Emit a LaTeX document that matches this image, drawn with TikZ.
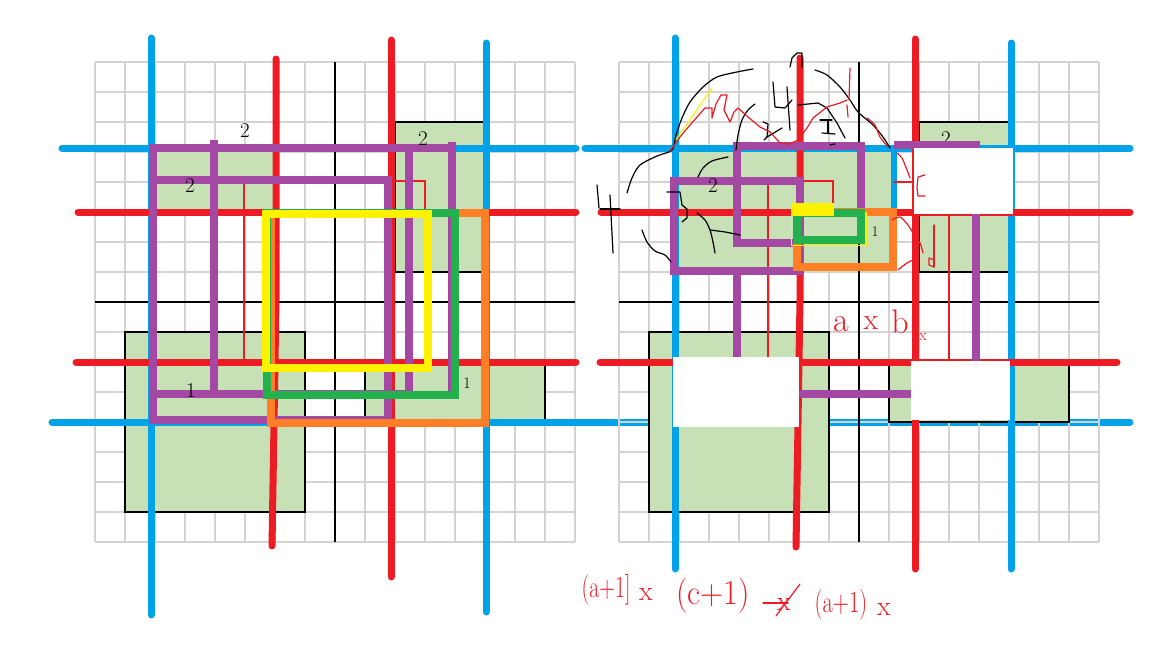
\documentclass[tikz,border=0pt]{standalone}
\usepackage{fontspec}
\usepackage{graphicx}
\definecolor{cblue}{HTML}{00A2E8}
\definecolor{cred}{HTML}{ED1C24}
\definecolor{cpurple}{HTML}{A349A4}
\definecolor{cgreen}{HTML}{22B14C}
\definecolor{corange}{HTML}{FF7F27}
\definecolor{cyellow}{HTML}{FFF200}
\definecolor{cfill}{HTML}{C8E0B5}
\definecolor{cgrid}{HTML}{D3D3D3}
\tikzset{
  gridline/.style={cgrid, line width=1.2pt},
  axisline/.style={black, line width=2.5pt},
  bluel/.style={cblue, line width=7pt, line cap=round},
  redl/.style={cred, line width=7pt, line cap=round, line join=round},
  thinred/.style={cred, line width=2.5pt},
  purp/.style={cpurple, line width=8pt, line cap=rect},
  purpbox/.style={cpurple, line width=8pt},
  greenbox/.style={fill=cfill, draw=black, line width=2.5pt},
  greenpatch/.style={fill=cfill},
  orbox/.style={corange, line width=8pt},
  grbox/.style={cgreen, line width=8pt},
  yebox/.style={cyellow, line width=8pt},
  eraser/.style={fill=white},
  scrib/.style={black, line width=1.2pt, line cap=round, line join=round},
  rscrib/.style={cred, line width=1.2pt, line cap=round, line join=round},
  numlabel/.style={font=\fontsize{21}{21}\selectfont, inner sep=0pt},
  hand/.style={cred, font=\fontsize{28}{28}\selectfont, inner sep=0pt},
}
\begin{document}
\begin{tikzpicture}[x=1pt, y=-1pt]
\useasboundingbox (0,0) rectangle (1152,648);
\fill[white] (0,0) rectangle (1152,648);

% ================= LEFT GRID =================
\foreach \i in {0,...,16} {
  \draw[gridline] ({95+30*\i},62) -- ({95+30*\i},542);
  \draw[gridline] (95,{62+30*\i}) -- (575,{62+30*\i});
}
\fill[greenpatch] (155,152) rectangle (275,212);
\draw[greenbox] (395,122) rectangle (485,272);
\draw[greenbox] (125,332) rectangle (305,512);
\draw[greenbox] (365,362) rectangle (545,422);

\draw[axisline] (335,62) -- (335,542);
\draw[axisline] (95,302) -- (575,302);

\draw[bluel] (151,38) -- (151,615);
\draw[bluel] (486,43) -- (486,612);
\draw[bluel] (62,148) -- (576,148);
\draw[bluel] (52,422) -- (1130,422);

\draw[redl] (276,59) -- (276,300) -- (272,546);
\draw[redl] (391,40) -- (391,577);
\draw[redl] (78,212) -- (576,212);
\draw[redl] (76,362) -- (576,362);

\draw[thinred] (244,182) -- (244,362);
\draw[thinred] (392,181) -- (425,181) -- (425,363);

\draw[purp] (153,148) -- (452,148);
\draw[purp] (153,180) -- (388,180);
\draw[purp] (153,394) -- (409,394);
\draw[purp] (153,420) -- (388,420);
\draw[purp] (153,148) -- (153,420);
\draw[purp] (214,144) -- (214,394);
\draw[purp] (388,180) -- (388,420);
\draw[purp] (409,148) -- (409,394);
\draw[purp] (452,146) -- (452,394);

\draw[orbox] (271,213) rectangle (485,423);
\draw[grbox] (267,213) rectangle (455,395);
\draw[yebox] (266,214) rectangle (428,368);

\node[numlabel] (l2a) at (245,131) {2};
\node[numlabel] (l2b) at (423,139) {2};
\node[numlabel] (l2c) at (190,186) {2};
\node[numlabel] (l1a) at (191,391) {1};
\node[numlabel, font=\fontsize{16}{16}\selectfont] (l1b) at (467,383) {1};

% ================= RIGHT GRID =================
\foreach \i in {0,...,16} {
  \draw[gridline] ({619+30*\i},62) -- ({619+30*\i},542);
  \draw[gridline] (619,{62+30*\i}) -- (1099,{62+30*\i});
}
\fill[greenpatch] (676,152) rectangle (891,272);
\draw[greenbox] (919,122) rectangle (1009,272);
\draw[greenbox] (649,332) rectangle (829,512);
\draw[greenbox] (889,362) rectangle (1069,422);

\draw[axisline] (859,62) -- (859,542);
\draw[axisline] (619,302) -- (1099,302);

\draw[bluel] (675,38) -- (675,569);
\draw[bluel] (1011,43) -- (1011,569);
\draw[bluel] (585,148) -- (1130,148);
\draw[cblue, line width=6pt] (894,146) -- (894,210);

\draw[redl] (800,58) -- (800,300) -- (796,547);
\draw[redl] (915,39) -- (915,569);
\draw[redl] (601,212) -- (1130,212);
\draw[redl] (600,362) -- (1117,362);

\draw[thinred] (768,185) -- (768,360);
\draw[thinred] (800,181) -- (833,181) -- (833,211);
\draw[thinred] (894,182) -- (912,182);
\draw[thinred] (917,181) -- (949,181) -- (949,362);

\node[numlabel] (r2b) at (946,139) {2};

\draw[purp] (737,146) -- (861,146);
\draw[purp] (898,145) -- (976,145);
\draw[purp] (737,146) -- (737,243);
\draw[purp] (737,272) -- (737,358);
\draw[purp] (737,243) -- (800,243);
\draw[purp] (861,146) -- (861,208);
\draw[purpbox] (674,181) rectangle (800,271);
\draw[purp] (976,212) -- (976,394);
\draw[purp] (677,394) -- (976,394);

\fill[eraser] (914,148) rectangle (1013,214);
\fill[eraser] (673,357) rectangle (799,427);
\fill[eraser] (911,361) rectangle (1010,420);

\draw[orbox] (797,212) rectangle (893,267);
\draw[grbox] (797,212.5) rectangle (861,240);
\draw[cyellow, line width=1.5pt] (791.5,216) -- (791.5,245.5) -- (866,245.5) -- (866,212);
\fill[cyellow] (791,203) rectangle (834,216);

\node[numlabel] (r2c) at (713,186) {2};
\node[numlabel, font=\fontsize{15}{15}\selectfont] (r1) at (875,232) {1};

% black handwriting
\draw[scrib] plot[smooth] coordinates {(627,193) (632,178) (640,165) (657,156) (672,150) (676,135) (682,118) (690,102) (703,87) (717,77) (737,72) (753,69)};
\draw[scrib] plot[smooth] coordinates {(642,230) (647,242) (655,251) (665,255) (671,262)};
\draw[scrib] (597,185) -- (599,208);
\draw[scrib] (600,209) -- (620,209);
\draw[scrib] (610,195) -- (613,253);
\draw[scrib] (667,192) -- (680,192) -- (682,205) -- (687,209) -- (687,218) -- (682,222);
\draw[scrib] plot[smooth] coordinates {(698,177) (703,168) (712,161) (728,157)};
\draw[scrib] plot[smooth] coordinates {(697,213) (705,220) (710,230) (713,242) (715,253)};
\draw[scrib] plot[smooth] coordinates {(710,230) (725,232) (740,235)};
\draw[scrib] plot[smooth] coordinates {(736,150) (738,135) (742,120) (748,110) (755,104)};
\draw[scrib] (773,82) -- (775,107) -- (785,108) -- (792,100);
\draw[scrib] (787,87) -- (790,130);
\draw[scrib] (790,67) -- (792,58) -- (797,53) -- (802,53) -- (802,67);
\draw[scrib] (798,105) -- (818,103) -- (827,108) -- (837,123) -- (845,138);
\draw[scrib] (820,120) -- (832,120);
\draw[scrib] (828,120) -- (828,133);
\draw[scrib] (822,133) -- (835,134);
\draw[scrib] (830,145) -- (835,144);
\draw[scrib] plot[smooth] coordinates {(815,70) (827,75) (840,87) (850,100) (858,112) (873,125) (883,137) (890,148)};
\draw[scrib] (763,122) -- (768,124) -- (767,137) -- (764,140);
\draw[scrib] (767,137) -- (782,128);

% red / yellow handwriting
\draw[cyellow, line width=1.1pt] (676,140) -- (712,88);
\draw[rscrib] (670,151) -- (680,137) -- (690,125) -- (705,108) -- (712,108) -- (712,118) -- (716,104) -- (721,95) -- (727,95) -- (724,110) -- (730,122) -- (734,112) -- (738,108) -- (748,117) -- (760,127) -- (770,132) -- (780,143) -- (790,144) -- (798,140) -- (807,128) -- (813,118) -- (827,107) -- (840,103) -- (847,100);
\draw[rscrib] (850,68) -- (849,100);
\draw[rscrib] (847,105) -- (848,117);
\draw[rscrib] plot[smooth] coordinates {(867,118) (875,125) (880,137) (888,147)};
\draw[rscrib] plot[smooth] coordinates {(897,153) (902,158) (907,170) (910,178)};
\draw[rscrib] (925,175) -- (918,177) -- (917,187) -- (918,196) -- (925,196);
\draw[rscrib] plot[smooth] coordinates {(892,220) (900,217) (908,225) (913,233) (920,243) (923,253)};
\draw[rscrib] plot[smooth] coordinates {(898,270) (907,263) (917,258)};
\draw[rscrib] (934,225) -- (934,267);
\draw[rscrib] (934,260) -- (929,258) -- (929,265) -- (934,267);

% labels
\node[hand, font=\fontsize{34}{34}\selectfont] (ab1) at (841,324) {a};
\node[hand, font=\fontsize{30}{30}\selectfont] (ab2) at (871,323) {x};
\node[hand, font=\fontsize{34}{34}\selectfont] (ab3) at (900,322) {b};
\node[hand, font=\fontsize{16}{16}\selectfont] (ab4) at (923,337) {x};

\node[hand] (f1) at (606,590) {\scalebox{0.78}[1.1]{(a+1]}};
\node[hand] (f1x) at (646,594) {x};
\node[hand, font=\fontsize{32}{32}\selectfont] (f2) at (713,596) {\scalebox{1}[1.1]{(c+1)}};
\node[hand] (f3) at (784,604) {x};
\coordinate (s1) at (800,584);
\coordinate (s2) at (776,616);
\coordinate (s3) at (763,603);
\coordinate (s4) at (788,603);
\draw[rscrib] (s1) -- (s2);
\draw[rscrib] (s3) -- (s4);
\node[hand] (f4) at (841,605) {\scalebox{0.8}[1.1]{(a+1)}};
\node[hand] (f4x) at (884,609) {x};
\end{tikzpicture}
\end{document}
